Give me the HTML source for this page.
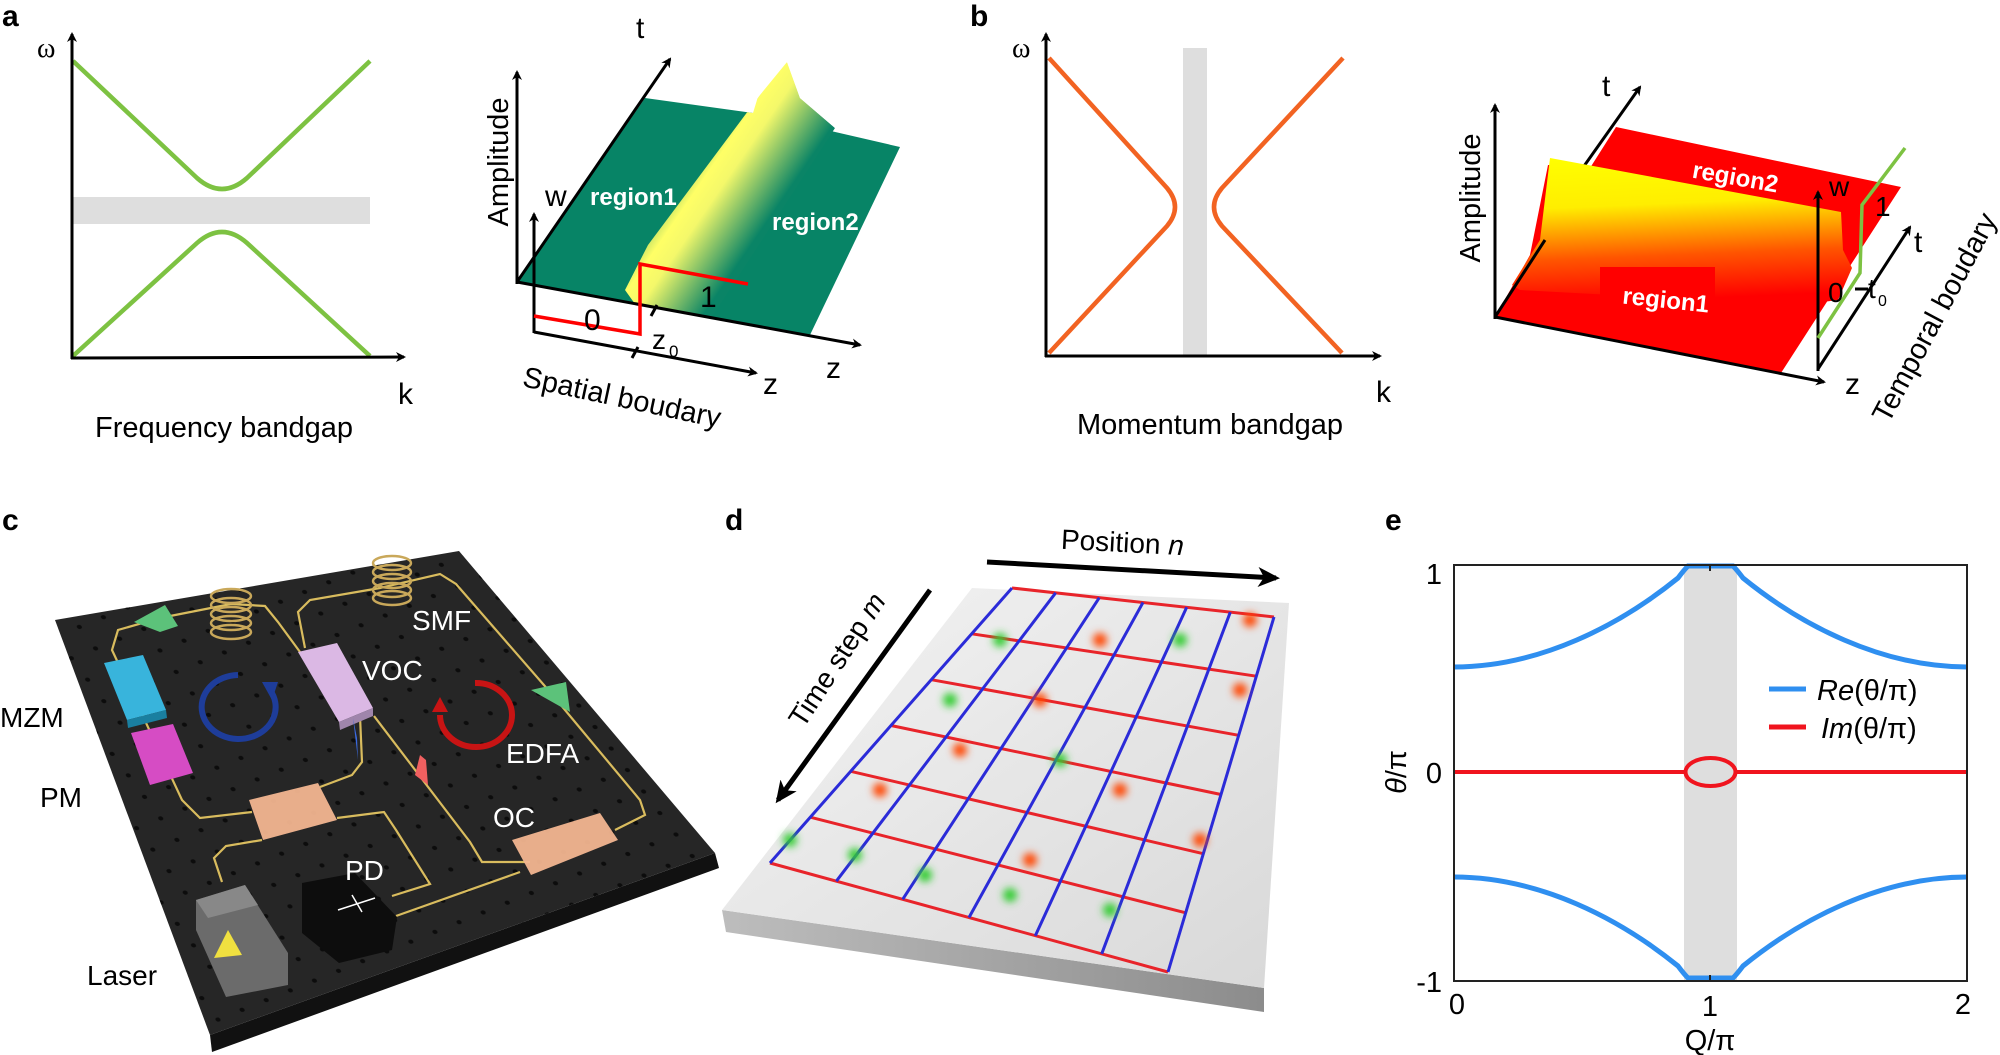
<!DOCTYPE html>
<html><head><meta charset="utf-8"><style>
html,body{margin:0;padding:0;background:#fff;}
svg{display:block;font-family:"Liberation Sans",Arial,sans-serif;}
</style></head><body>
<svg width="2000" height="1055" viewBox="0 0 2000 1055" xmlns="http://www.w3.org/2000/svg">
<defs>
<marker id="ar" markerWidth="10" markerHeight="10" refX="8" refY="5" orient="auto" markerUnits="userSpaceOnUse"><path d="M0,0 L10,5 L0,10 L3,5 Z" fill="#000"/></marker>
<marker id="arL" markerWidth="22" markerHeight="20" refX="18" refY="10" orient="auto" markerUnits="userSpaceOnUse"><path d="M0,0 L22,10 L0,20 L6,10 Z" fill="#000"/></marker>
<linearGradient id="ridge" gradientUnits="userSpaceOnUse" x1="655" y1="160" x2="760" y2="232">
<stop offset="0" stop-color="#0a8466"/><stop offset="0.4" stop-color="#ffff66"/><stop offset="0.55" stop-color="#f4f86a"/><stop offset="1" stop-color="#0a8466"/></linearGradient>
<linearGradient id="wall" x1="0" y1="0" x2="0.1" y2="1">
<stop offset="0" stop-color="#ffff00"/><stop offset="0.35" stop-color="#ffee00"/><stop offset="0.7" stop-color="#ff5500"/><stop offset="1" stop-color="#ff0000"/></linearGradient>
<linearGradient id="slab" x1="0" y1="0" x2="1" y2="1">
<stop offset="0" stop-color="#f4f4f4"/><stop offset="1" stop-color="#d8d8d8"/></linearGradient>
<linearGradient id="slabside" x1="0" y1="0" x2="1" y2="0">
<stop offset="0" stop-color="#bdbdbd"/><stop offset="1" stop-color="#8c8c8c"/></linearGradient>
<filter id="bl" x="-1" y="-1" width="3" height="3"><feGaussianBlur stdDeviation="4"/></filter>
<pattern id="holes" width="26" height="26" patternUnits="userSpaceOnUse" patternTransform="rotate(-22) skewX(15)"><circle cx="13" cy="13" r="2.3" fill="#0c0c0c"/></pattern>
<clipPath id="surfA"><path d="M517,282 L645,98 L753,113 L760,90 L787,62 L800,98 L835,128 L900,147 L810,335 Z"/></clipPath>
</defs>

<g font-weight="bold" font-size="30" fill="#000">
<text x="2" y="26">a</text><text x="970" y="26">b</text>
<text x="2" y="530">c</text><text x="725" y="530">d</text><text x="1385" y="530">e</text>
</g>

<!-- a left -->
<rect x="73" y="197" width="297" height="27" fill="#dedede"/>
<path d="M73,61 L197,178 Q222,200 247,178 L370,61" fill="none" stroke="#7dc242" stroke-width="4.5"/>
<path d="M73,356 L197,243 Q222,221 247,243 L370,356" fill="none" stroke="#7dc242" stroke-width="4.5"/>
<line x1="72" y1="359" x2="72" y2="34" stroke="#000" stroke-width="3" marker-end="url(#ar)"/>
<line x1="71" y1="358" x2="404" y2="357" stroke="#000" stroke-width="3" marker-end="url(#ar)"/>
<text x="37" y="57" font-size="28" font-family="Liberation Serif,serif">ω</text>
<text x="398" y="404" font-size="30">k</text>
<text x="224" y="437" font-size="29" text-anchor="middle">Frequency bandgap</text>

<!-- a right 3D -->
<path d="M517,282 L645,98 L753,113 L900,147 L810,335 Z" fill="#078466"/>
<g clip-path="url(#surfA)">
<path d="M625,290 L648,245 L760,95 L787,62 L800,98 L835,128 L700,335 L650,325 Z" fill="url(#ridge)"/>
</g>
<line x1="517" y1="284" x2="517" y2="72" stroke="#000" stroke-width="3" marker-end="url(#ar)"/>
<line x1="517" y1="282" x2="670" y2="59" stroke="#000" stroke-width="3" marker-end="url(#ar)"/>
<line x1="517" y1="282" x2="860" y2="345" stroke="#000" stroke-width="3" marker-end="url(#ar)"/>
<line x1="534" y1="333" x2="534" y2="214" stroke="#000" stroke-width="3" marker-end="url(#ar)"/>
<line x1="534" y1="332" x2="756" y2="373" stroke="#000" stroke-width="3" marker-end="url(#ar)"/>
<path d="M534,316 L640,334 L640,264 L748,284" fill="none" stroke="#ff0000" stroke-width="3.5"/>
<line x1="651" y1="316" x2="657" y2="305" stroke="#000" stroke-width="3"/>
<line x1="632" y1="358" x2="638" y2="347" stroke="#000" stroke-width="3"/>
<text x="584" y="330" font-size="30">0</text>
<text x="700" y="307" font-size="30">1</text>
<text x="652" y="349" font-size="28">z</text><text x="669" y="357" font-size="17">0</text>
<text x="636" y="38" font-size="30">t</text>
<text x="545" y="206" font-size="30">w</text>
<text x="826" y="378" font-size="30">z</text>
<text x="763" y="394" font-size="30">z</text>
<text x="590" y="205" font-size="24" font-weight="bold" fill="#fff">region1</text>
<text x="772" y="230" font-size="24" font-weight="bold" fill="#fff">region2</text>
<text transform="translate(508,162) rotate(-90)" font-size="29" text-anchor="middle">Amplitude</text>
<text transform="translate(620,407) rotate(12)" font-size="29" text-anchor="middle">Spatial boudary</text>

<!-- b left -->
<rect x="1183" y="48" width="24" height="308" fill="#dedede"/>
<path d="M1343,58 L1222,188 Q1206,207 1222,226 L1342,353" fill="none" stroke="#f26322" stroke-width="4.5"/>
<path d="M1049,58 L1167,188 Q1183,207 1167,226 L1049,353" fill="none" stroke="#f26322" stroke-width="4.5"/>
<line x1="1046" y1="357" x2="1046" y2="34" stroke="#000" stroke-width="3" marker-end="url(#ar)"/>
<line x1="1045" y1="356" x2="1380" y2="356" stroke="#000" stroke-width="3" marker-end="url(#ar)"/>
<text x="1012" y="57" font-size="28" font-family="Liberation Serif,serif">ω</text>
<text x="1376" y="402" font-size="30">k</text>
<text x="1210" y="434" font-size="29" text-anchor="middle">Momentum bandgap</text>

<!-- b right 3D -->
<line x1="1560" y1="200" x2="1640" y2="87" stroke="#000" stroke-width="3" marker-end="url(#ar)"/>
<path d="M1495,317 L1530,255 L1548,165 L1590,168 L1616,127 L1901,187 L1781,373 Z" fill="#ff0000"/>
<path d="M1512,285 L1540,240 L1550,158 L1841,212 L1843,250 L1852,268 L1838,300 L1800,305 L1520,290 Z" fill="url(#wall)"/>
<rect x="1600" y="267" width="115" height="48" fill="#ff0000"/>
<line x1="1495" y1="319" x2="1495" y2="105" stroke="#000" stroke-width="3" marker-end="url(#ar)"/>
<line x1="1495" y1="317" x2="1545" y2="240" stroke="#000" stroke-width="3"/>
<line x1="1495" y1="317" x2="1824" y2="382" stroke="#000" stroke-width="3" marker-end="url(#ar)"/>
<line x1="1818" y1="371" x2="1818" y2="192" stroke="#000" stroke-width="3" marker-end="url(#ar)"/>
<line x1="1818" y1="369" x2="1910" y2="227" stroke="#000" stroke-width="3" marker-end="url(#ar)"/>
<path d="M1818,338 L1860,273 L1862,205 L1905,148" fill="none" stroke="#7dc242" stroke-width="3.5"/>
<line x1="1855" y1="289" x2="1868" y2="289" stroke="#000" stroke-width="3"/>
<text x="1602" y="96" font-size="30">t</text>
<text x="1829" y="196" font-size="28">w</text>
<text x="1828" y="302" font-size="28">0</text>
<text x="1875" y="216" font-size="28">1</text>
<text x="1868" y="298" font-size="28">t</text><text x="1878" y="306" font-size="16">0</text>
<text x="1914" y="252" font-size="30">t</text>
<text x="1845" y="394" font-size="30">z</text>
<text transform="translate(1734,185) rotate(10)" font-size="24" font-weight="bold" fill="#fff" text-anchor="middle">region2</text>
<text transform="translate(1665,308) rotate(6)" font-size="24" font-weight="bold" fill="#fff" text-anchor="middle">region1</text>
<text transform="translate(1480,198) rotate(-90)" font-size="29" text-anchor="middle">Amplitude</text>
<text transform="translate(1943,322) rotate(-62)" font-size="29" text-anchor="middle">Temporal boudary</text>

<!-- c board -->
<path d="M210,1035 L715,853 L719,868 L212,1052 Z" fill="#111"/>
<path d="M55,620 L459,551 L715,853 L210,1035 Z" fill="#262626"/>
<path d="M55,620 L459,551 L715,853 L210,1035 Z" fill="url(#holes)"/>
<g fill="none" stroke="#d9bc5e" stroke-width="2.2">
<path d="M252,812 L200,818 L182,800 L112,650 L118,630 L160,618 L231,604 L265,606 L278,622 L300,652"/>
<path d="M360,716 L362,762 L352,775 L320,787"/>
<path d="M305,648 L298,612 L310,600 L380,588 L440,574 L456,584 L550,692 L640,800 L645,815 L615,830"/>
<path d="M530,862 L482,862 L470,842 L374,716"/>
<path d="M222,882 L214,858 L226,846 L262,840"/>
<path d="M337,818 L384,812 L396,830 L430,884 L392,896"/>
<path d="M396,916 L520,872"/>
</g>
<g fill="none" stroke="#c9a85a" stroke-width="2.5">
<ellipse cx="231" cy="596" rx="20" ry="7"/><ellipse cx="231" cy="605" rx="20" ry="7"/><ellipse cx="231" cy="614" rx="20" ry="7"/><ellipse cx="231" cy="623" rx="20" ry="7"/><ellipse cx="231" cy="632" rx="20" ry="7"/>
<ellipse cx="392" cy="563" rx="19" ry="7"/><ellipse cx="392" cy="572" rx="19" ry="7"/><ellipse cx="392" cy="581" rx="19" ry="7"/><ellipse cx="392" cy="590" rx="19" ry="7"/><ellipse cx="392" cy="598" rx="19" ry="7"/>
</g>
<path d="M134,622 L165,605 L178,626 L160,632 Z" fill="#5cc27a"/>
<path d="M531,690 L566,682 L570,712 Z" fill="#5cc27a"/>
<path d="M104,663 L143,655 L166,710 L127,720 Z" fill="#38b4dc"/>
<path d="M127,720 L166,710 L167,718 L128,728 Z" fill="#1a7fa0"/>
<path d="M131,733 L173,724 L193,773 L150,785 Z" fill="#d64cc4"/>
<path d="M298,652 L337,643 L373,708 L339,722 Z" fill="#dbb8e4"/>
<path d="M339,722 L373,708 L373,716 L340,730 Z" fill="#9f85ab"/>
<path d="M249,800 L318,783 L337,820 L263,840 Z" fill="#f2b590" opacity="0.95"/>
<path d="M512,840 L600,813 L618,840 L531,875 Z" fill="#f2b590" opacity="0.95"/>
<path d="M196,900 L245,885 L288,953 L288,985 L226,997 L196,930 Z" fill="#6b6b6b"/>
<path d="M196,900 L245,885 L258,905 L208,918 Z" fill="#888"/>
<path d="M228,930 L242,955 L214,958 Z" fill="#f0e040"/>
<path d="M302,883 L355,873 L397,917 L392,950 L339,963 L302,933 Z" fill="#0d0d0d"/>
<path d="M338,910 L375,898 M352,895 L362,912" stroke="#fff" stroke-width="1.5" fill="none"/>
<path d="M353,718 L357,738 L358,760 Z" fill="#3a6ae0"/>
<path d="M420,755 L426,760 L428,785 L415,775 Z" fill="#f06060"/>
<path d="M238,675 A37,32 0 1 0 270,690" fill="none" stroke="#1e3d9a" stroke-width="6"/>
<path d="M262,682 L278,682 L272,700 Z" fill="#1e3d9a"/>
<path d="M475,683 A36,32 0 1 1 440,715" fill="none" stroke="#c81414" stroke-width="6"/>
<path d="M432,712 L448,712 L440,697 Z" fill="#c81414"/>
<g font-size="28">
<text x="412" y="630" fill="#fff">SMF</text>
<text x="362" y="680" fill="#fff">VOC</text>
<text x="506" y="763" fill="#fff">EDFA</text>
<text x="493" y="827" fill="#fff">OC</text>
<text x="345" y="880" fill="#fff">PD</text>
<text x="0" y="727" fill="#000">MZM</text>
<text x="40" y="807" fill="#000">PM</text>
<text x="87" y="985" fill="#000">Laser</text>
</g>

<!-- d lattice -->
<path d="M722,910 L1264,988 L1264,1012 L726,932 Z" fill="url(#slabside)"/>
<path d="M972,588 L1289,603 L1264,988 L722,910 Z" fill="url(#slab)"/>
<g stroke="#e8242a" stroke-width="3" fill="none">
<line x1="770" y1="863" x2="1168" y2="972"/>
<line x1="810.3" y1="817.2" x2="1185.7" y2="912.8"/>
<line x1="850.7" y1="771.3" x2="1203.3" y2="853.7"/>
<line x1="891" y1="725.5" x2="1221" y2="794.5"/>
<line x1="931.3" y1="679.7" x2="1238.7" y2="735.3"/>
<line x1="971.7" y1="633.8" x2="1256.3" y2="676.2"/>
<line x1="1012" y1="588" x2="1274" y2="617"/>
</g>
<g stroke="#2b2bd8" stroke-width="3" fill="none">
<line x1="770" y1="863" x2="1012" y2="588"/>
<line x1="836.3" y1="881.2" x2="1055.7" y2="592.8"/>
<line x1="902.7" y1="899.3" x2="1099.3" y2="597.7"/>
<line x1="969" y1="917.5" x2="1143" y2="602.5"/>
<line x1="1035.3" y1="935.7" x2="1186.7" y2="607.3"/>
<line x1="1101.7" y1="953.8" x2="1230.3" y2="612.2"/>
<line x1="1168" y1="972" x2="1274" y2="617"/>
</g>
<g filter="url(#bl)">
<circle cx="790" cy="840" r="7" fill="#33cc33"/><circle cx="855" cy="855" r="7" fill="#33cc33"/>
<circle cx="925" cy="875" r="7" fill="#33cc33"/><circle cx="1010" cy="895" r="7" fill="#33cc33"/>
<circle cx="1110" cy="910" r="7" fill="#33cc33"/><circle cx="880" cy="790" r="7" fill="#ff4400"/>
<circle cx="960" cy="750" r="7" fill="#ff4400"/><circle cx="1040" cy="700" r="7" fill="#ff4400"/>
<circle cx="1120" cy="790" r="7" fill="#ff4400"/><circle cx="1200" cy="840" r="7" fill="#ff4400"/>
<circle cx="1240" cy="690" r="7" fill="#ff4400"/><circle cx="1100" cy="640" r="7" fill="#ff4400"/>
<circle cx="1000" cy="640" r="7" fill="#33cc33"/><circle cx="950" cy="700" r="7" fill="#33cc33"/>
<circle cx="1060" cy="760" r="7" fill="#33cc33"/><circle cx="1180" cy="640" r="7" fill="#33cc33"/>
<circle cx="1250" cy="620" r="7" fill="#ff4400"/><circle cx="1030" cy="860" r="7" fill="#ff4400"/>
</g>
<line x1="987" y1="562" x2="1276" y2="578" stroke="#000" stroke-width="5" marker-end="url(#arL)"/>
<line x1="930" y1="590" x2="778" y2="800" stroke="#000" stroke-width="5" marker-end="url(#arL)"/>
<text transform="translate(1122,552) rotate(3)" font-size="28" text-anchor="middle">Position <tspan font-style="italic">n</tspan></text>
<text transform="translate(845,665) rotate(-57)" font-size="28" text-anchor="middle">Time step <tspan font-style="italic">m</tspan></text>

<!-- e -->
<rect x="1684" y="565" width="53" height="416" fill="#dedede"/>
<path d="M1454,667 C1540,667 1620,625 1678,578 Q1684,570 1688,566 L1733,566 Q1737,570 1743,578 C1801,625 1881,667 1967,667" fill="none" stroke="#2f8ff0" stroke-width="5"/>
<path d="M1454,877 C1540,877 1620,919 1678,966 Q1684,974 1688,978 L1733,978 Q1737,974 1743,966 C1801,919 1881,877 1967,877" fill="none" stroke="#2f8ff0" stroke-width="5"/>
<line x1="1454" y1="772" x2="1684" y2="772" stroke="#f0141e" stroke-width="4"/>
<line x1="1737" y1="772" x2="1967" y2="772" stroke="#f0141e" stroke-width="4"/>
<ellipse cx="1710.5" cy="772" rx="25" ry="14" fill="none" stroke="#f0141e" stroke-width="4"/>
<rect x="1454" y="565" width="513" height="416" fill="none" stroke="#222" stroke-width="2"/>
<line x1="1710" y1="565" x2="1710" y2="571" stroke="#222" stroke-width="2"/>
<line x1="1710" y1="981" x2="1710" y2="975" stroke="#222" stroke-width="2"/>
<line x1="1769" y1="689" x2="1806" y2="689" stroke="#2f8ff0" stroke-width="5"/>
<line x1="1769" y1="727" x2="1806" y2="727" stroke="#f0141e" stroke-width="5"/>
<g font-size="29">
<text x="1817" y="700"><tspan font-style="italic">Re</tspan>(θ/π)</text>
<text x="1821" y="738"><tspan font-style="italic">Im</tspan>(θ/π)</text>
<text x="1442" y="584" text-anchor="end">1</text>
<text x="1442" y="783" text-anchor="end">0</text>
<text x="1442" y="992" text-anchor="end">-1</text>
<text x="1457" y="1014" text-anchor="middle">0</text>
<text x="1710" y="1016" text-anchor="middle">1</text>
<text x="1963" y="1014" text-anchor="middle">2</text>
<text x="1710" y="1050" text-anchor="middle">Q/π</text>
<text transform="translate(1406,772) rotate(-90)" text-anchor="middle"><tspan font-style="italic">θ</tspan>/π</text>
</g>
</svg>
</body></html>
